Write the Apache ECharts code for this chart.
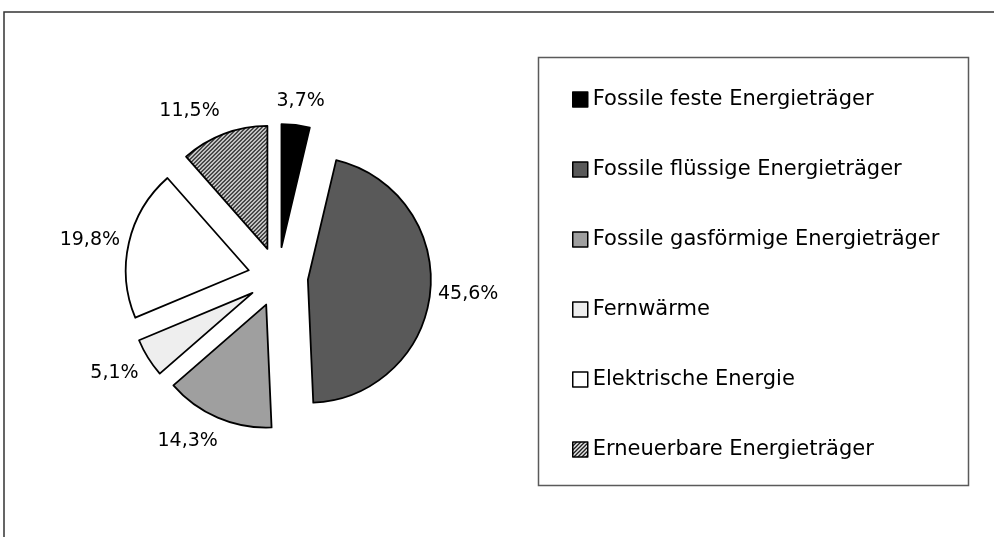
<!DOCTYPE html>
<html>
<head>
<meta charset="utf-8">
<script src="https://cdn.jsdelivr.net/npm/echarts@6/dist/echarts.min.js"></script>
<style>
html,body{margin:0;padding:0;background:#fff;}
#chart{width:994px;height:537px;}
</style>
</head>
<body>
<div id="chart"></div>
<script>
// ---- data ----
var categories = [
  'Fossile feste Energieträger',
  'Fossile flüssige Energieträger',
  'Fossile gasförmige Energieträger',
  'Fernwärme',
  'Elektrische Energie',
  'Erneuerbare Energieträger'
];
var values = [3.7, 45.6, 14.3, 5.1, 19.8, 11.5];

// ---- styles ----
var FONT = 'DejaVu Sans';
function hatchCanvas() {
  var c = document.createElement('canvas');
  c.width = 4; c.height = 4;
  var g = c.getContext('2d');
  g.fillStyle = '#fff'; g.fillRect(0, 0, 4, 4);
  g.strokeStyle = '#000'; g.lineWidth = 1.3;
  g.beginPath();
  g.moveTo(-1, 5); g.lineTo(5, -1);
  g.moveTo(-1, 1); g.lineTo(1, -1);
  g.moveTo(3, 5); g.lineTo(5, 3);
  g.stroke();
  return c;
}
var fills = ['#000000', '#595959', '#9f9f9f', '#eeeeee', '#ffffff', { image: hatchCanvas(), repeat: 'repeat' }];
var labelLens = [25, 37, 33, 36, 38, 35];
// small label nudges (px) to mimic the original label placement
var labelNudgeX = [2, 1, -17, -3, -2, -22];
var labelNudgeY = [1, -1, -7, -4, 6, 10];

var data = categories.map(function (name, i) {
  return {
    name: name,
    value: values[i],
    selected: true,
    itemStyle: { color: fills[i] },
    labelLine: { show: false, length: labelLens[i], length2: 0 }
  };
});

var chart = echarts.init(document.getElementById('chart'), null, { renderer: 'canvas' });
chart.setOption({
  animation: false,
  backgroundColor: '#fff',
  graphic: [
    { type: 'rect', silent: true, shape: { x: 4, y: 12, width: 1100, height: 700 },
      style: { fill: 'none', stroke: '#333', lineWidth: 1.5 } },
    { type: 'rect', silent: true, shape: { x: 538.5, y: 57.5, width: 430, height: 428 },
      style: { fill: 'none', stroke: '#5a5a5a', lineWidth: 1.5 } }
  ],
  legend: {
    orient: 'vertical',
    left: 567,
    top: 84,
    itemWidth: 15,
    itemHeight: 15,
    itemGap: 49,
    icon: 'rect',
    selectedMode: false,
    itemStyle: { borderColor: '#000', borderWidth: 1.5 },
    textStyle: { fontFamily: FONT, fontSize: 21, color: '#000' },
    data: categories
  },
  series: [{
    type: 'pie',
    center: [278, 277],
    radius: 123,
    startAngle: 90,
    clockwise: true,
    selectedMode: 'multiple',
    selectedOffset: 30,
    avoidLabelOverlap: false,
    itemStyle: { borderColor: '#000', borderWidth: 1.8 },
    emphasis: { disabled: true },
    select: { itemStyle: { borderColor: '#000', borderWidth: 1.8 } },
    label: {
      show: true,
      position: 'outside',
      distanceToLabelLine: 0,
      fontFamily: FONT,
      fontSize: 19,
      color: '#000',
      formatter: function (p) { return p.value.toFixed(1).replace('.', ',') + '%'; }
    },
    labelLine: { show: false, length: 33, length2: 0 },
    labelLayout: function (p) {
      return {
        align: 'center',
        verticalAlign: 'middle',
        dx: labelNudgeX[p.dataIndex],
        dy: labelNudgeY[p.dataIndex]
      };
    },
    data: data
  }]
});
</script>
</body>
</html>
